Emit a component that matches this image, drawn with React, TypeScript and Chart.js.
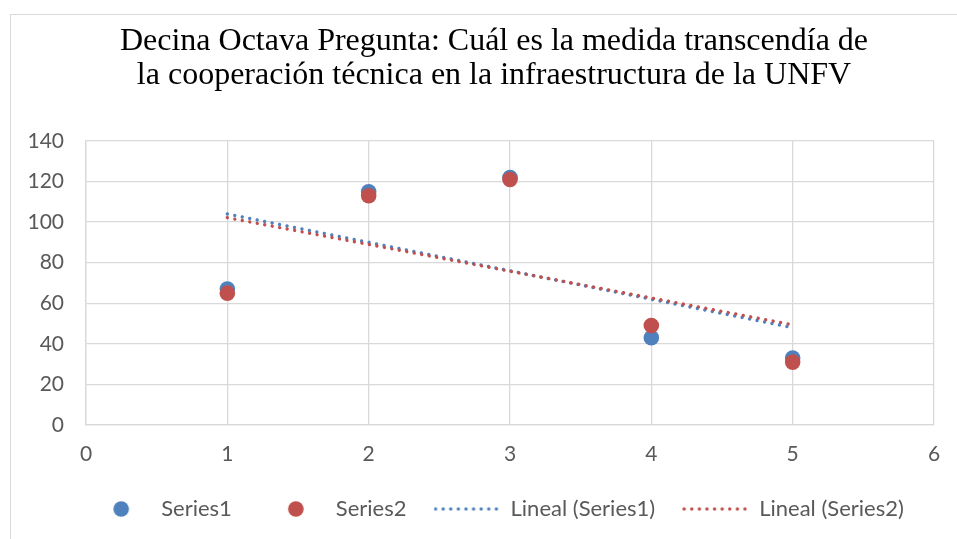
import React, { useEffect, useRef } from "react";
import { Chart, registerables } from "chart.js";

Chart.register(...registerables);

const titleLines = [
  "Decina Octava Pregunta: Cuál es la medida transcendía de",
  "la cooperación técnica en la infraestructura de la UNFV",
];
const xValues = [1, 2, 3, 4, 5];
const series1 = [67, 115, 122, 43, 33];
const series2 = [65, 113, 121, 49, 31];
const seriesNames = ["Series1", "Series2", "Lineal (Series1)", "Lineal (Series2)"];
const xTicks = [0, 1, 2, 3, 4, 5, 6];
const yTicks = [0, 20, 40, 60, 80, 100, 120, 140];

const BLUE = "#4f81bd";
const RED = "#c0504d";
const GRID = "#d9d9d9";
const TEXT = "#595959";
const TICK_FONT = "Lato, 'Open Sans', sans-serif";

function trend(xs: number[], ys: number[]) {
  const n = xs.length;
  const mx = xs.reduce((a, b) => a + b, 0) / n;
  const my = ys.reduce((a, b) => a + b, 0) / n;
  let num = 0;
  let den = 0;
  for (let i = 0; i < n; i++) {
    num += (xs[i] - mx) * (ys[i] - my);
    den += (xs[i] - mx) * (xs[i] - mx);
  }
  const slope = num / den;
  const icpt = my - slope * mx;
  const x0 = xs[0];
  const x1 = xs[n - 1];
  return [
    { x: x0, y: icpt + slope * x0 },
    { x: x1, y: icpt + slope * x1 },
  ];
}

function circleIcon(color: string) {
  const c = document.createElement("canvas");
  c.width = 66;
  c.height = 16;
  const ctx = c.getContext("2d")!;
  ctx.fillStyle = color;
  ctx.beginPath();
  ctx.arc(37, 8, 7.8, 0, Math.PI * 2);
  ctx.fill();
  return c;
}

function dottedIcon(color: string) {
  const c = document.createElement("canvas");
  c.width = 66;
  c.height = 16;
  const ctx = c.getContext("2d")!;
  ctx.fillStyle = color;
  for (let x = 2; x <= 64; x += 7.6) {
    ctx.beginPath();
    ctx.arc(x, 8, 1.7, 0, Math.PI * 2);
    ctx.fill();
  }
  return c;
}

export default function App() {
  const ref = useRef<HTMLCanvasElement | null>(null);

  useEffect(() => {
    if (!ref.current) return;
    const icons = [circleIcon(BLUE), circleIcon(RED), dottedIcon(BLUE), dottedIcon(RED)];
    const colors = [BLUE, RED, BLUE, RED];
    const pts1 = xValues.map((x, i) => ({ x, y: series1[i] }));
    const pts2 = xValues.map((x, i) => ({ x, y: series2[i] }));
    const chart = new Chart(ref.current, {
      type: "scatter",
      data: {
        datasets: [
          {
            label: seriesNames[0],
            data: pts1,
            backgroundColor: BLUE,
            borderColor: BLUE,
            pointRadius: 7.8,
            pointBorderWidth: 0,
            order: 3,
          },
          {
            label: seriesNames[1],
            data: pts2,
            backgroundColor: RED,
            borderColor: RED,
            pointRadius: 7.8,
            pointBorderWidth: 0,
            order: 2,
          },
          {
            type: "line",
            label: seriesNames[2],
            data: trend(xValues, series1),
            borderColor: BLUE,
            borderWidth: 3.4,
            borderDash: [0.01, 7.6],
            borderCapStyle: "round",
            pointRadius: 0,
            showLine: true,
            fill: false,
            order: 1,
          } as any,
          {
            type: "line",
            label: seriesNames[3],
            data: trend(xValues, series2),
            borderColor: RED,
            borderWidth: 3.4,
            borderDash: [0.01, 7.6],
            borderCapStyle: "round",
            pointRadius: 0,
            showLine: true,
            fill: false,
            order: 0,
          } as any,
        ],
      },
      options: {
        responsive: false,
        animation: false,
        layout: { padding: { left: 10, right: 10, top: 0, bottom: 9 } },
        plugins: {
          tooltip: { enabled: false },
          title: {
            display: true,
            text: titleLines,
            color: "#000000",
            font: { family: "'Liberation Serif', 'Times New Roman', serif", size: 32, weight: "normal", lineHeight: 1.0625 },
            padding: { top: 11, bottom: 48 },
          },
          legend: {
            display: true,
            position: "bottom",
            labels: {
              usePointStyle: true,
              pointStyleWidth: 66,
              padding: 27,
              color: TEXT,
              font: { family: TICK_FONT, size: 22 },
              generateLabels: () =>
                seriesNames.map((name, i) => ({
                  text: name,
                  fillStyle: colors[i],
                  strokeStyle: colors[i],
                  lineWidth: 0,
                  pointStyle: icons[i] as any,
                  fontColor: TEXT,
                  hidden: false,
                  datasetIndex: i,
                })),
            },
          },
        },
        scales: {
          x: {
            type: "linear",
            min: 0,
            max: 6,
            afterBuildTicks: (s: any) => {
              s.ticks = xTicks.map((v) => ({ value: v }));
            },
            afterFit: (s: any) => {
              s.height = 46;
            },
            grid: { color: GRID, lineWidth: 1.3, drawTicks: false },
            border: { color: GRID, width: 1.3 },
            ticks: { color: TEXT, font: { family: TICK_FONT, size: 21 }, padding: 17 },
          },
          y: {
            type: "linear",
            min: 0,
            max: 140,
            afterBuildTicks: (s: any) => {
              s.ticks = yTicks.map((v) => ({ value: v }));
            },
            afterFit: (s: any) => {
              s.width = 66;
            },
            grid: { color: GRID, lineWidth: 1.3, drawTicks: false },
            border: { color: GRID, width: 1.3 },
            ticks: { color: TEXT, font: { family: TICK_FONT, size: 21 }, padding: 22 },
          },
          yRightSpace: {
            type: "linear",
            position: "right",
            display: true,
            min: 0,
            max: 140,
            afterFit: (s: any) => {
              s.width = 34;
            },
            grid: { display: false, drawTicks: false },
            border: { display: false },
            ticks: { display: false },
          },
        },
      },
    });
    return () => chart.destroy();
  }, []);

  return (
    <div style={{ position: "absolute", left: 0, top: 0, width: 957, height: 539, overflow: "hidden", background: "#fff" }}>
      <div
        style={{
          position: "absolute",
          left: 10,
          top: 14,
          width: 1200,
          height: 800,
          borderTop: "1.5px solid #d9d9d9",
          borderLeft: "1.5px solid #d9d9d9",
        }}
      />
      <canvas ref={ref} width={968} height={525} style={{ position: "absolute", left: 10, top: 14, width: 968, height: 525 }} />
    </div>
  );
}
